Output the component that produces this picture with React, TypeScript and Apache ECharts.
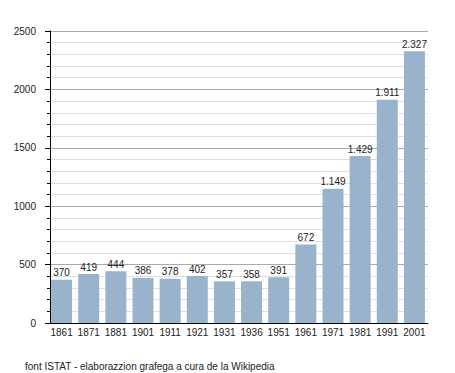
import React, { useEffect, useRef } from "react";
import * as echarts from "echarts";

const years = ["1861", "1871", "1881", "1901", "1911", "1921", "1931", "1936", "1951", "1961", "1971", "1981", "1991", "2001"];
const population = [370, 419, 444, 386, 378, 402, 357, 358, 391, 672, 1149, 1429, 1911, 2327];
const sourceText = "font ISTAT - elaborazzion grafega a cura de la Wikipedia";

const FONT = "'Liberation Sans', Arial, sans-serif";

function fmt(v: number): string {
  return String(v).replace(/\B(?=(\d{3})+(?!\d))/g, ".");
}

export default function App() {
  const ref = useRef<HTMLDivElement>(null);
  useEffect(() => {
    if (!ref.current) return;
    const chart = echarts.init(ref.current, undefined, { renderer: "svg" });
    chart.setOption({
      animation: false,
      backgroundColor: "#ffffff",
      textStyle: { fontFamily: FONT },
      title: {
        text: sourceText,
        left: 20,
        top: 356,
        textStyle: { fontSize: 10, fontWeight: "normal", color: "#222", fontFamily: FONT },
      },
      grid: { left: 48, top: 31, width: 380, height: 292, containLabel: false },
      xAxis: {
        type: "category",
        data: years,
        axisLine: { show: true, lineStyle: { color: "#000", width: 1 } },
        axisTick: { show: false },
        axisLabel: { color: "#222", fontSize: 10, margin: 4, interval: 0, fontFamily: FONT },
        splitLine: { show: false },
      },
      yAxis: {
        type: "value",
        min: 0,
        max: 2500,
        interval: 500,
        offset: -2,
        axisLine: { show: true, lineStyle: { color: "#000", width: 1 } },
        axisTick: { show: true, length: 5, lineStyle: { color: "#000" } },
        minorTick: { show: true, splitNumber: 5, length: 3, lineStyle: { color: "#000" } },
        axisLabel: {
          color: "#222",
          fontSize: 10,
          margin: 14,
          fontFamily: FONT,
          formatter: (v: number) => String(v),
        },
        splitLine: { show: true, lineStyle: { color: "#aaaaaa", width: 1 } },
        minorSplitLine: { show: true, lineStyle: { color: "#e0e0e0", width: 1 } },
      },
      series: [
        {
          type: "bar",
          data: population,
          barWidth: 21,
          itemStyle: { color: "#9ab3cc" },
          label: {
            show: true,
            position: "top",
            distance: 2,
            color: "#222",
            fontSize: 10,
            fontFamily: FONT,
            formatter: (p: any) => fmt(p.value),
          },
        },
      ],
    });
    return () => chart.dispose();
  }, []);
  return (
    <div
      ref={ref}
      style={{ position: "fixed", left: 0, top: 0, width: 455, height: 373 }}
    />
  );
}
